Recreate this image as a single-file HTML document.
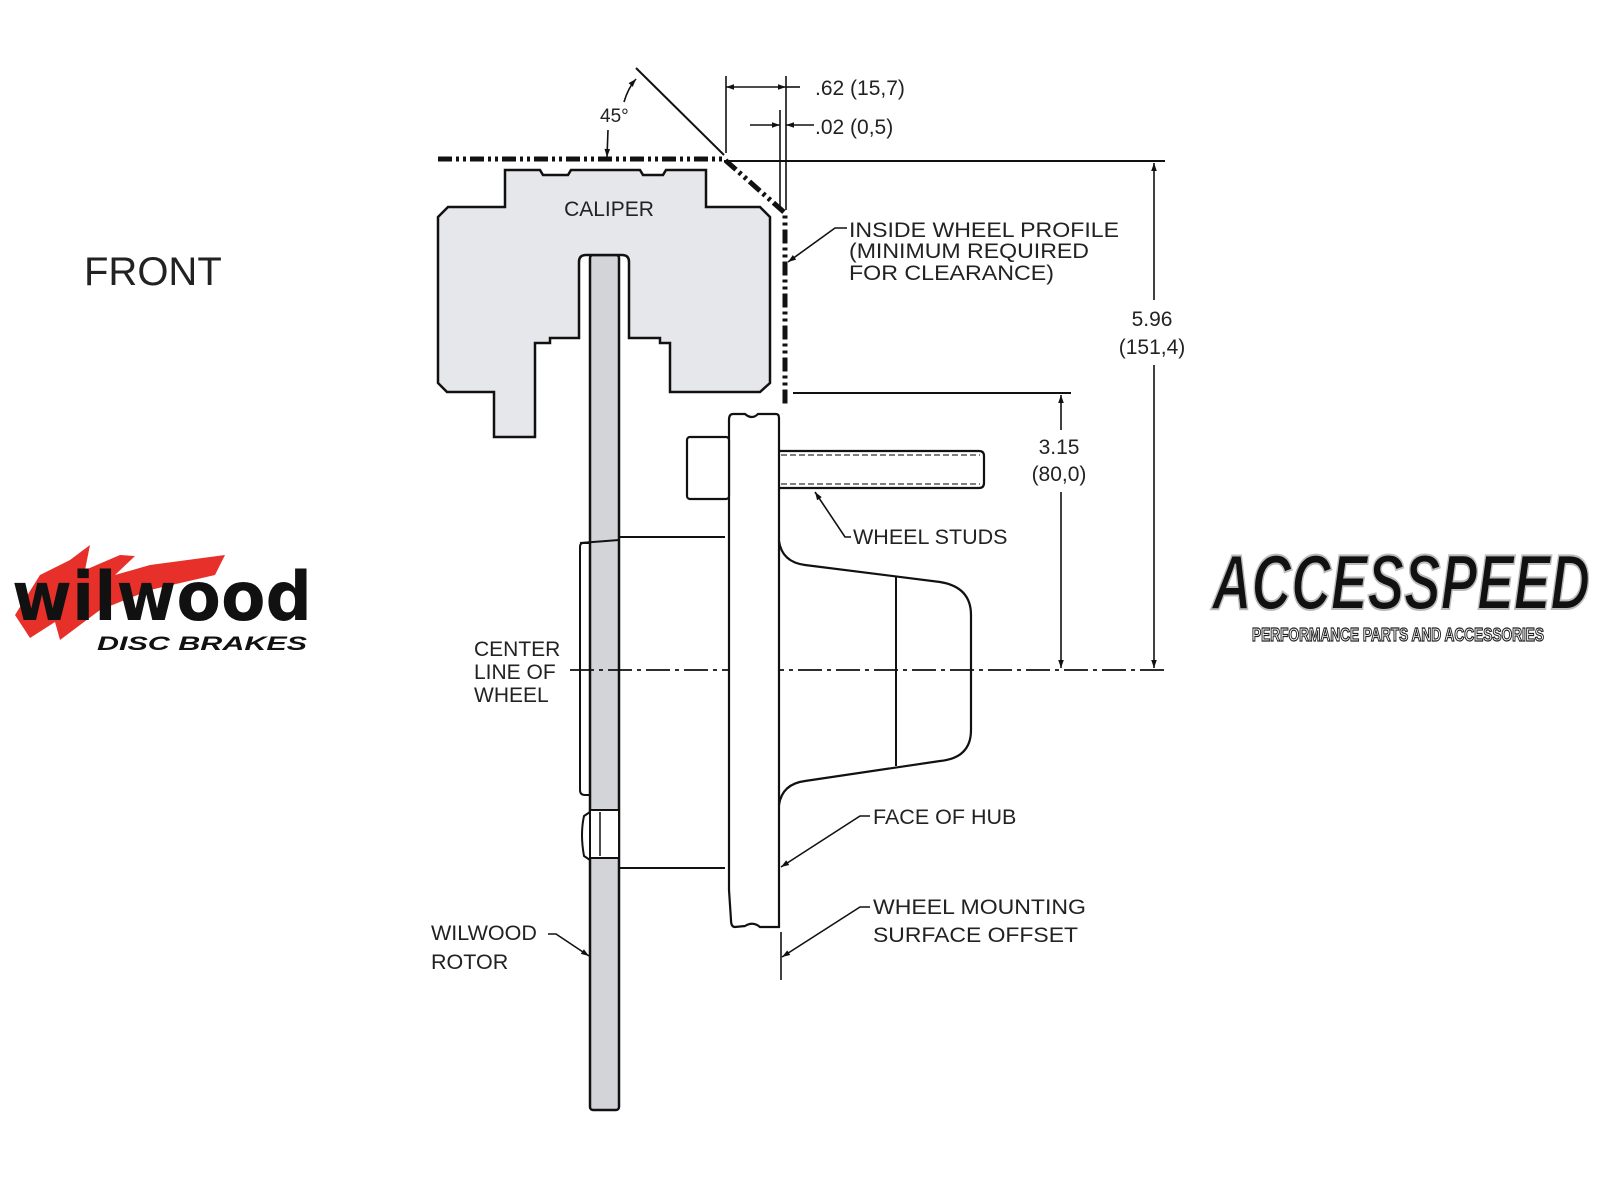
<!DOCTYPE html>
<html><head><meta charset="utf-8"><style>
html,body{margin:0;padding:0;background:#fff;width:1600px;height:1200px;overflow:hidden}
svg{display:block}
text{font-family:"Liberation Sans",Arial,sans-serif;fill:#222}
</style></head><body>
<svg width="1600" height="1200" viewBox="0 0 1600 1200" xmlns="http://www.w3.org/2000/svg">
<defs>
<marker id="ar" viewBox="0 0 10 10" refX="10" refY="5" markerWidth="12" markerHeight="8" orient="auto-start-reverse" markerUnits="userSpaceOnUse"><path d="M0,1.5 L10,5 L0,8.5 z" fill="#111"/></marker>
</defs>
<text x="84" y="285" font-size="40">FRONT</text>

<!-- rotor -->
<rect x="590" y="255" width="29" height="855" rx="3" fill="#d2d4d8" stroke="#111" stroke-width="2.5"/>

<!-- caliper -->
<path d="M505,170 L540,170 L543,175 L568,175 L571,170 L640,170 L643,175 L663,175 L666,170 L706,170 L706,207 L760,207 L770,217 L770,383 L760,392 L670,392 L670,343 L660,343 L660,338 L629,338 L629,262 Q629,255 622,255 L586,255 Q579,255 579,262 L579,338 L550,338 L550,343 L535,343 L535,437 L494,437 L494,392 L447,392 L438,383 L438,217 L448,207 L505,207 Z" fill="#e6e7ea" stroke="#111" stroke-width="2.5"/>
<text x="609" y="216" font-size="21" text-anchor="middle">CALIPER</text>

<!-- wheel profile dash-dot -->
<path d="M438,159 L724,159 L785,213 L785,407" fill="none" stroke="#111" stroke-width="5" stroke-dasharray="14,4,3,4,3,4"/>
<line x1="724" y1="161" x2="1165" y2="161" stroke="#111" stroke-width="2"/>
<!-- 45 deg -->
<line x1="636" y1="68" x2="724" y2="155" stroke="#111" stroke-width="2"/>
<line x1="608" y1="130" x2="607" y2="157" stroke="#111" stroke-width="1.6" marker-end="url(#ar)"/>
<path d="M624,102 Q628,88 636,79" fill="none" stroke="#111" stroke-width="1.6" marker-end="url(#ar)"/>
<text x="600" y="122" font-size="19">45°</text>
<!-- .62 -->
<line x1="726" y1="76" x2="726" y2="153" stroke="#111" stroke-width="1.6"/>
<line x1="786" y1="76" x2="786" y2="210" stroke="#111" stroke-width="1.6"/>
<line x1="726" y1="87" x2="786" y2="87" stroke="#111" stroke-width="1.6" marker-end="url(#ar)" marker-start="url(#ar)"/>
<line x1="786" y1="87" x2="800" y2="87" stroke="#111" stroke-width="1.6"/>
<text x="815" y="95" font-size="21">.62 (15,7)</text>
<!-- .02 -->
<line x1="780" y1="110" x2="780" y2="210" stroke="#111" stroke-width="1.6"/>
<line x1="750" y1="125" x2="780" y2="125" stroke="#111" stroke-width="1.6" marker-end="url(#ar)"/>
<line x1="814" y1="125" x2="786" y2="125" stroke="#111" stroke-width="1.6" marker-end="url(#ar)"/>
<text x="815" y="134" font-size="21">.02 (0,5)</text>

<text font-size="21.5"><tspan x="849" y="237" textLength="270" lengthAdjust="spacingAndGlyphs">INSIDE WHEEL PROFILE</tspan><tspan x="849" y="258" textLength="240" lengthAdjust="spacingAndGlyphs">(MINIMUM REQUIRED</tspan><tspan x="849" y="280" textLength="205" lengthAdjust="spacingAndGlyphs">FOR CLEARANCE)</tspan></text>
<path d="M847,228 L835,228 L788,262" fill="none" stroke="#111" stroke-width="1.6" marker-end="url(#ar)"/>

<!-- 5.96 -->
<line x1="1154" y1="163" x2="1154" y2="300" stroke="#111" stroke-width="1.6" marker-start="url(#ar)"/>
<line x1="1154" y1="365" x2="1154" y2="668" stroke="#111" stroke-width="1.6" marker-end="url(#ar)"/>
<text x="1152" y="326" font-size="21" text-anchor="middle">5.96</text>
<text x="1152" y="354" font-size="21" text-anchor="middle">(151,4)</text>
<!-- 3.15 -->
<line x1="793" y1="393" x2="1071" y2="393" stroke="#111" stroke-width="2"/>
<line x1="1061" y1="395" x2="1061" y2="430" stroke="#111" stroke-width="1.6" marker-start="url(#ar)"/>
<line x1="1061" y1="492" x2="1061" y2="668" stroke="#111" stroke-width="1.6" marker-end="url(#ar)"/>
<text x="1059" y="454" font-size="21" text-anchor="middle">3.15</text>
<text x="1059" y="481" font-size="21" text-anchor="middle">(80,0)</text>

<!-- center line -->
<line x1="570" y1="670" x2="1165" y2="670" stroke="#111" stroke-width="1.8" stroke-dasharray="24,5,4,5"/>
<text font-size="21"><tspan x="474" y="656">CENTER</tspan><tspan x="474" y="679">LINE OF</tspan><tspan x="474" y="702">WHEEL</tspan></text>

<!-- hub body -->
<path d="M619,537 L725,537 M619,868 L725,868" stroke="#111" stroke-width="2"/>
<path d="M590,543 L583,543 Q580,543 580,547 L580,790 Q580,795 585,795 L590,795" fill="none" stroke="#111" stroke-width="2"/>
<line x1="580" y1="543" x2="619" y2="540" stroke="#111" stroke-width="2"/>
<!-- small bolt -->
<path d="M590,812 L584,816 Q580,834 584,856 L590,860" fill="#fff" stroke="#111" stroke-width="2"/>
<rect x="590" y="810" width="29" height="48" fill="#fff" stroke="#111" stroke-width="2"/>
<line x1="600" y1="812" x2="600" y2="856" stroke="#111" stroke-width="1.5"/>
<!-- flange -->
<path d="M733,414 L745,414 Q752,420 758,414 L776,414 Q779,414 779,418 L779,927 L760,927 Q753,921 745,926 L735,927 Q731,927 731,920 L729,890 L729,420 Q729,414 733,414 Z" fill="#fff" stroke="#111" stroke-width="2.2"/>
<!-- stud head -->
<rect x="687" y="437" width="42" height="62" rx="3" fill="#fff" stroke="#111" stroke-width="2.2"/>
<!-- stud shaft -->
<path d="M779,451 L979,451 Q984,451 984,456 L984,483 Q984,488 979,488 L779,488" fill="none" stroke="#111" stroke-width="2.2"/>
<line x1="781" y1="455" x2="980" y2="455" stroke="#555" stroke-width="1.5" stroke-dasharray="6,3"/>
<line x1="781" y1="484" x2="980" y2="484" stroke="#555" stroke-width="1.5" stroke-dasharray="6,3"/>
<!-- nose -->
<path d="M779,541 Q782,562 805,565 L940,582 Q971,587 971,615 L971,730 Q971,758 940,761 L805,781 Q782,784 779,805" fill="none" stroke="#111" stroke-width="2.2"/>
<line x1="896" y1="577" x2="896" y2="766" stroke="#111" stroke-width="2"/>

<!-- labels -->
<path d="M815,492 L845,537 L851,537" fill="none" stroke="#111" stroke-width="1.6" marker-start="url(#ar)"/>
<text x="853" y="544" font-size="21.5">WHEEL STUDS</text>
<path d="M870,816 L860,816 L781,867" fill="none" stroke="#111" stroke-width="1.6" marker-end="url(#ar)"/>
<text x="873" y="824" font-size="21.5">FACE OF HUB</text>
<line x1="781" y1="932" x2="781" y2="980" stroke="#111" stroke-width="1.6"/>
<path d="M870,907 L860,907 L782,957" fill="none" stroke="#111" stroke-width="1.6" marker-end="url(#ar)"/>
<text font-size="21.5"><tspan x="873" y="914" textLength="213" lengthAdjust="spacingAndGlyphs">WHEEL MOUNTING</tspan><tspan x="873" y="942" textLength="205" lengthAdjust="spacingAndGlyphs">SURFACE OFFSET</tspan></text>
<path d="M548,934 L556,934 L589,956" fill="none" stroke="#111" stroke-width="1.6" marker-end="url(#ar)"/>
<text font-size="21.5"><tspan x="431" y="940">WILWOOD</tspan><tspan x="431" y="969">ROTOR</tspan></text>

<!-- Wilwood logo -->
<g>
<path d="M15,615 L40,575 L70,560 L90,545 L85,570 L120,555 L135,556 L115,575 L150,565 L225,555 L215,575 L150,590 L100,610 L60,640 L55,622 L30,638 Z" fill="#e8302a"/>
<text x="12" y="620" font-size="68" font-weight="bold" style="font-family:'DejaVu Sans','Liberation Sans',sans-serif;fill:#111" textLength="300" lengthAdjust="spacingAndGlyphs">wilwood</text>
<text x="97" y="650" font-size="19" font-weight="bold" font-style="italic" style="fill:#111" textLength="210" lengthAdjust="spacingAndGlyphs">DISC BRAKES</text>
</g>
<!-- Accesspeed logo -->
<g>
<text x="1212" y="609" font-size="78" font-weight="bold" font-style="italic" style="fill:#111;stroke:#bbb;stroke-width:2" textLength="378" lengthAdjust="spacingAndGlyphs">ACCESSPEED</text>
<text x="1252" y="641" font-size="18" font-weight="bold" style="fill:#fff;stroke:#222;stroke-width:1.2" textLength="292" lengthAdjust="spacingAndGlyphs">PERFORMANCE PARTS AND ACCESSORIES</text>
</g>
</svg>
</body></html>
